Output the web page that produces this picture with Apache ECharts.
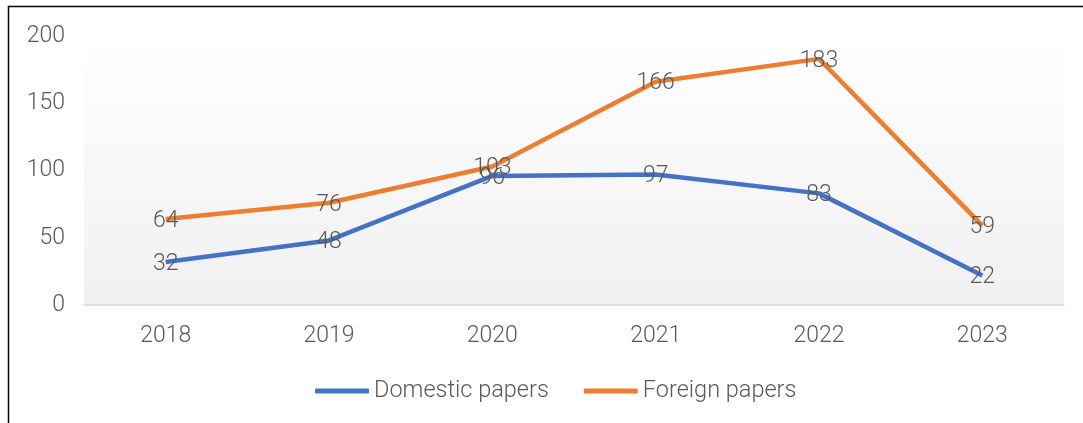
<!DOCTYPE html>
<html>
<head>
<meta charset="utf-8">
<script src="https://cdn.jsdelivr.net/npm/echarts@6/dist/echarts.min.js"></script>
<style>html,body{margin:0;padding:0;background:#fff;}#c{width:1083px;height:423px;}</style>
</head>
<body>
<div id="c"></div>
<script>
const categories = ['2018', '2019', '2020', '2021', '2022', '2023'];
const domestic = [32, 48, 96, 97, 83, 22];
const foreign = [64, 76, 103, 166, 183, 59];
const yTicks = [0, 50, 100, 150, 200];

const FONT = 'Roboto';
const TXT = '#595959';
const chart = echarts.init(document.getElementById('c'), null, {renderer: 'canvas'});
const lbl = {show: true, position: 'inside', offset: [0, 2], fontFamily: FONT, fontSize: 23, fontWeight: 300, color: TXT};
chart.setOption({
  animation: false,
  backgroundColor: '#fff',
  textStyle: {fontFamily: FONT},
  graphic: [{
    type: 'rect', silent: true, z: 100,
    shape: {x: 8.5, y: 6.5, width: 1200, height: 1000},
    style: {fill: 'none', stroke: '#000', lineWidth: 1.5}
  }],
  grid: {
    left: 84, right: 19, top: 36, bottom: 118,
    show: true, borderWidth: 0,
    backgroundColor: new echarts.graphic.LinearGradient(0, 0, 0, 1, [
      {offset: 0, color: '#ffffff'}, {offset: 1, color: '#f0f0f0'}
    ])
  },
  legend: {
    bottom: 15, left: 310,
    itemWidth: 54, itemHeight: 5, itemGap: 35,
    icon: 'roundRect',
    textStyle: {fontFamily: FONT, fontSize: 23.5, fontWeight: 300, color: TXT},
    data: ['Domestic papers', 'Foreign papers']
  },
  xAxis: {
    type: 'category', data: categories, boundaryGap: true,
    axisLine: {lineStyle: {color: '#d9d9d9', width: 1.5}},
    axisTick: {show: false},
    axisLabel: {fontFamily: FONT, fontSize: 23, fontWeight: 300, color: TXT, margin: 20}
  },
  yAxis: {
    type: 'value', min: yTicks[0], max: yTicks[yTicks.length - 1], interval: 50,
    axisLine: {show: false}, axisTick: {show: false},
    splitLine: {show: false},
    axisLabel: {fontFamily: FONT, fontSize: 23, fontWeight: 300, color: TXT, margin: 19, padding: [4, 0, 0, 0]}
  },
  series: [
    {
      name: 'Domestic papers', type: 'line', data: domestic,
      symbol: 'circle', symbolSize: 0.1, showSymbol: true,
      lineStyle: {color: '#4472C4', width: 4.5}, itemStyle: {color: '#4472C4'},
      label: lbl
    },
    {
      name: 'Foreign papers', type: 'line', data: foreign,
      symbol: 'circle', symbolSize: 0.1, showSymbol: true,
      lineStyle: {color: '#ED7D31', width: 4.5}, itemStyle: {color: '#ED7D31'},
      label: lbl
    }
  ]
});
</script>
</body>
</html>
